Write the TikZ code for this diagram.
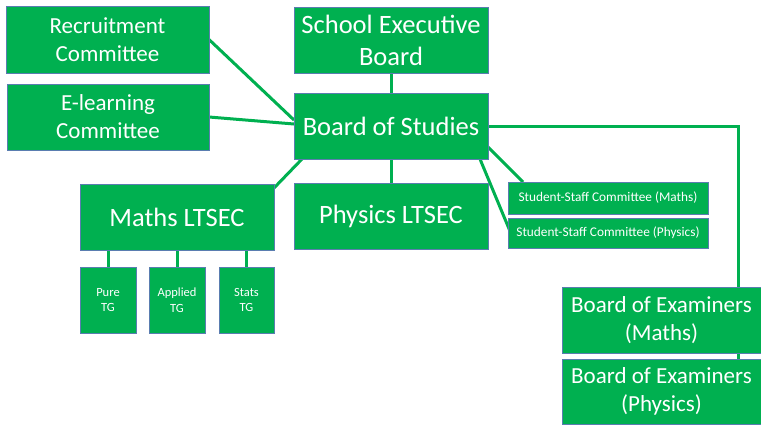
\documentclass[tikz,border=0pt]{standalone}
\usepackage{fontspec}
\setmainfont{Carlito}
\usetikzlibrary{backgrounds}
\definecolor{boxgreen}{HTML}{00B050}
\definecolor{edgeblue}{HTML}{5A7DB0}
\tikzset{
  orgbox/.style={draw=edgeblue, line width=0.8pt, fill=boxgreen, text=white, inner sep=0pt, outer sep=0pt, align=center},
  big/.style={font=\fontsize{26.5}{32}\selectfont},
  exam/.style={font=\fontsize{23}{28}\selectfont},
  mid/.style={font=\fontsize{23}{28}\selectfont},
  tiny/.style={font=\fontsize{12.5}{15.5}\selectfont},
  ssc/.style={font=\fontsize{13.3}{15}\selectfont},
  link/.style={draw=boxgreen, line width=3pt}
}
\begin{document}
\begin{tikzpicture}[x=1pt, y=-1pt]
\useasboundingbox (0,0) rectangle (761,424);
% nodes
\node[orgbox, mid, minimum width=203pt, minimum height=67pt] (rec) at (107.5,39.5) {Recruitment\\Committee};
\node[orgbox, mid, minimum width=202pt, minimum height=66pt] (elr) at (108,117) {E-learning\\Committee};
\node[orgbox, big, minimum width=194pt, minimum height=66pt] (seb) at (391,40) {School Executive\\Board};
\node[orgbox, big, minimum width=194pt, minimum height=66pt] (bos) at (391,126) {Board of Studies};
\node[orgbox, big, minimum width=194pt, minimum height=66pt] (mlt) at (177,217) {Maths LTSEC};
\node[orgbox, big, minimum width=194pt, minimum height=66pt] (plt) at (391,216) {Physics LTSEC};
\node[orgbox, tiny, minimum width=56pt, minimum height=66pt] (pure) at (108,300) {Pure\\TG};
\node[orgbox, tiny, minimum width=56pt, minimum height=66pt] (appl) at (177,300) {Applied\\TG};
\node[orgbox, tiny, minimum width=55pt, minimum height=66pt] (stats) at (246.5,300) {Stats\\TG};
\node[orgbox, ssc, minimum width=200pt, minimum height=32pt] (sscm) at (608,198) {Student-Staff Committee (Maths)};
\node[orgbox, ssc, minimum width=200pt, minimum height=30pt] (sscp) at (608,233) {Student-Staff Committee (Physics)};
\node[orgbox, exam, minimum width=199pt, minimum height=66pt] (boem) at (661.5,320) {Board of Examiners\\(Maths)};
\node[orgbox, exam, minimum width=199pt, minimum height=65pt] (boep) at (661.5,391.5) {Board of Examiners\\(Physics)};
% connectors (drawn behind)
\begin{scope}[on background layer]
\draw[link] (rec.east) -- ([yshift=6pt]bos.west);
\draw[link] (elr.east) -- ([yshift=2pt]bos.west);
\draw[link] (seb.south) -- (bos.north);
\draw[link] (bos.south) -- (plt.north);
\draw[link] ([yshift=-4pt]mlt.north east) -- ([xshift=8pt]bos.south west);
\draw[link] ([yshift=-21pt]bos.east) -- ([xshift=15pt]sscm.north west);
\draw[link] ([xshift=-8pt]bos.south east) -- ([xshift=9pt]sscp.south west);
\draw[link] (bos.east) -| ([xshift=77pt]boem.north);
\draw[link] ([xshift=77pt]boem.south) -- ([xshift=77pt]boep.north);
\draw[link] (pure.north) -- (pure.north |- mlt.south);
\draw[link] (appl.north) -- (appl.north |- mlt.south);
\draw[link] (stats.north) -- (stats.north |- mlt.south);
\end{scope}
\end{tikzpicture}
\end{document}
